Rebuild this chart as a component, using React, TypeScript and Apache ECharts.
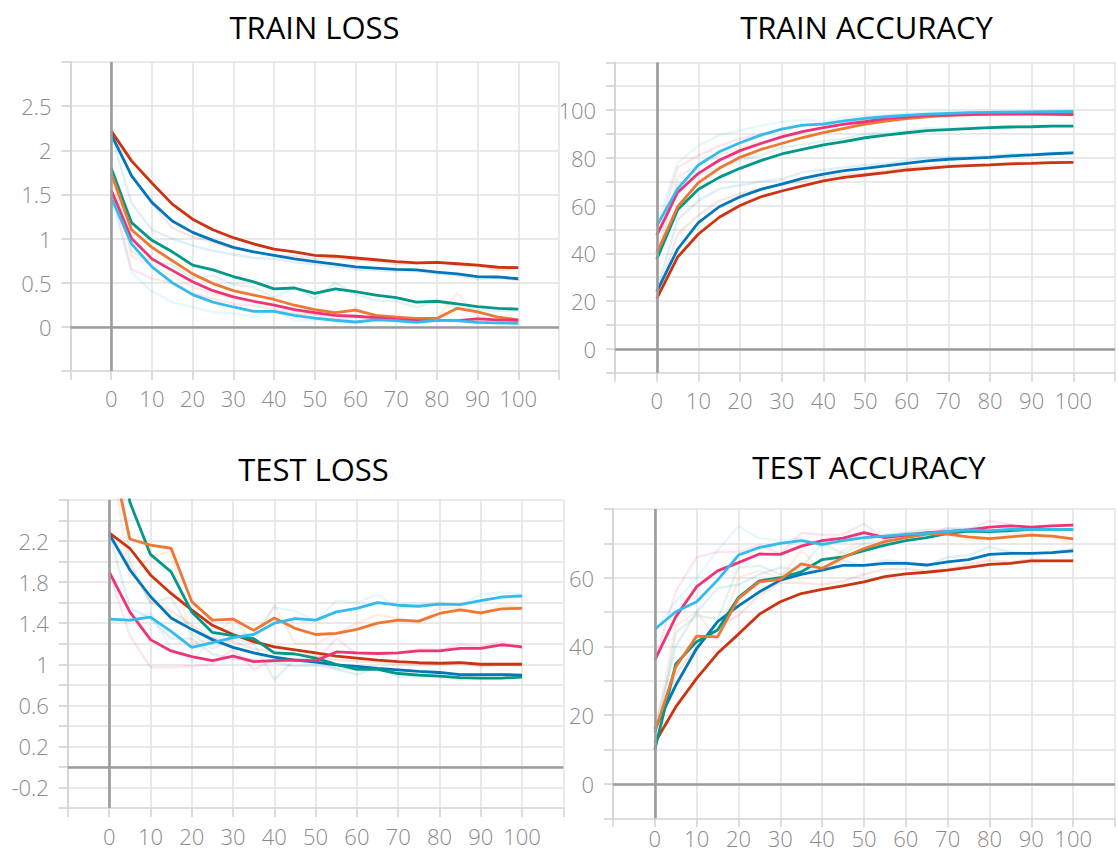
import React, { useEffect, useRef } from "react";
import * as echarts from "echarts";

const EPOCHS = [0, 5, 10, 15, 20, 25, 30, 35, 40, 45, 50, 55, 60, 65, 70, 75, 80, 85, 90, 95, 100];
const RUN_COLORS = ["#cc3311", "#0077bb", "#009988", "#ee7733", "#ee3377", "#33bbee"];

const X_TICK_LABELS = ["0", "10", "20", "30", "40", "50", "60", "70", "80", "90", "100"];

// ---------- TRAIN LOSS ----------
const TRAIN_LOSS_RED = [2.22, 1.88, 1.63, 1.39, 1.22, 1.1, 1.01, 0.94, 0.88, 0.85, 0.81, 0.8, 0.78, 0.76, 0.74, 0.725, 0.73, 0.715, 0.7, 0.675, 0.67];
const TRAIN_LOSS_BLUE = [2.18, 1.71, 1.41, 1.2, 1.07, 0.98, 0.9, 0.85, 0.81, 0.77, 0.74, 0.71, 0.68, 0.665, 0.65, 0.645, 0.62, 0.6, 0.57, 0.565, 0.545];
const TRAIN_LOSS_TEAL = [1.8, 1.18, 0.98, 0.85, 0.7, 0.645, 0.57, 0.51, 0.43, 0.44, 0.38, 0.43, 0.4, 0.36, 0.33, 0.28, 0.29, 0.26, 0.23, 0.21, 0.2];
const TRAIN_LOSS_ORANGE = [1.74, 1.1, 0.9, 0.75, 0.6, 0.49, 0.41, 0.36, 0.31, 0.245, 0.195, 0.16, 0.19, 0.13, 0.11, 0.095, 0.095, 0.21, 0.17, 0.11, 0.08];
const TRAIN_LOSS_PINK = [1.55, 1.0, 0.77, 0.64, 0.51, 0.41, 0.34, 0.29, 0.245, 0.195, 0.16, 0.13, 0.12, 0.105, 0.085, 0.07, 0.07, 0.07, 0.09, 0.08, 0.075];
const TRAIN_LOSS_CYAN = [1.47, 0.94, 0.68, 0.5, 0.365, 0.28, 0.225, 0.175, 0.175, 0.13, 0.1, 0.075, 0.055, 0.08, 0.07, 0.05, 0.075, 0.07, 0.05, 0.045, 0.04];

const TRAIN_LOSS_RED_RAW = [2.22, 1.72, 1.4, 1.12, 1.02, 0.96, 0.89, 0.85, 0.81, 0.8, 0.77, 0.78, 0.75, 0.74, 0.71, 0.71, 0.73, 0.7, 0.69, 0.64, 0.66];
const TRAIN_LOSS_BLUE_RAW = [2.18, 1.4, 1.1, 1.0, 0.92, 0.86, 0.82, 0.78, 0.77, 0.73, 0.71, 0.68, 0.65, 0.64, 0.63, 0.63, 0.6, 0.58, 0.54, 0.56, 0.53];
const TRAIN_LOSS_TEAL_RAW = [1.8, 0.85, 0.75, 0.7, 0.55, 0.58, 0.48, 0.45, 0.33, 0.45, 0.32, 0.5, 0.37, 0.3, 0.29, 0.22, 0.29, 0.22, 0.19, 0.18, 0.19];
const TRAIN_LOSS_ORANGE_RAW = [1.74, 0.8, 0.7, 0.58, 0.45, 0.38, 0.33, 0.28, 0.26, 0.18, 0.15, 0.13, 0.22, 0.09, 0.09, 0.08, 0.1, 0.38, 0.12, 0.07, 0.06];
const TRAIN_LOSS_PINK_RAW = [1.55, 0.65, 0.55, 0.5, 0.38, 0.32, 0.26, 0.24, 0.2, 0.15, 0.14, 0.1, 0.11, 0.09, 0.07, 0.06, 0.07, 0.07, 0.1, 0.07, 0.07];
const TRAIN_LOSS_CYAN_RAW = [1.47, 0.62, 0.4, 0.28, 0.22, 0.17, 0.15, 0.12, 0.18, 0.08, 0.08, 0.06, 0.04, 0.1, 0.06, 0.04, 0.08, 0.06, 0.04, 0.04, 0.03];

// ---------- TRAIN ACCURACY ----------
const TRAIN_ACC_RED = [21, 38.4, 48.1, 55.1, 60, 63.7, 66.1, 68.2, 70.3, 71.8, 72.8, 73.8, 74.9, 75.6, 76.3, 76.7, 77, 77.5, 77.7, 78, 78.1];
const TRAIN_ACC_BLUE = [24, 41.7, 52.9, 59.5, 63.7, 66.8, 69, 71.4, 73.2, 74.6, 75.6, 76.6, 77.7, 78.7, 79.4, 79.8, 80.2, 80.8, 81.2, 81.7, 82.1];
const TRAIN_ACC_TEAL = [37.5, 58.2, 66.8, 71.8, 75.6, 78.8, 81.6, 83.5, 85.4, 86.8, 88.4, 89.5, 90.5, 91.4, 91.8, 92.2, 92.6, 92.9, 93, 93.3, 93.3];
const TRAIN_ACC_ORANGE = [40, 59.5, 69.6, 75.6, 80.2, 83.5, 86, 88.5, 90.5, 92.3, 94.1, 95.4, 96.4, 97.2, 97.8, 98, 98.3, 98.4, 98.5, 98.6, 98.6];
const TRAIN_ACC_PINK = [47.5, 65.5, 73.5, 79, 83, 86, 88.8, 91, 92.6, 94.1, 95.1, 96.4, 97.2, 97.8, 97.9, 98.2, 98.3, 98.3, 98.3, 98.2, 98.1];
const TRAIN_ACC_CYAN = [51.5, 67, 77, 82.5, 86.3, 89.5, 92, 93.7, 94.1, 95.5, 96.5, 97.2, 97.8, 98.3, 98.6, 98.9, 99, 99.1, 99.2, 99.3, 99.4];

const TRAIN_ACC_RED_RAW = [21, 48, 56, 62, 65, 67, 69, 70, 72, 73, 73.5, 74.5, 76, 76.5, 77, 77, 77.2, 78, 77.8, 78.3, 78.3];
const TRAIN_ACC_BLUE_RAW = [24, 54, 62, 67, 68.5, 70, 71, 74, 75, 76, 77, 77.5, 79, 80, 80.3, 80.5, 80.8, 81.5, 81.5, 82, 82.5];
const TRAIN_ACC_TEAL_RAW = [37.5, 69, 73, 76, 79, 81, 84.5, 85.5, 87, 88, 90, 90.5, 91, 92.5, 92, 92.7, 93, 93.2, 93.2, 93.5, 93.4];
const TRAIN_ACC_ORANGE_RAW = [40, 72, 77, 81, 84.5, 86.5, 88.5, 91, 92.5, 94, 95.5, 96.5, 97, 97.7, 98.2, 98.3, 98.5, 98.5, 98.6, 98.6, 98.7];
const TRAIN_ACC_PINK_RAW = [47.5, 76, 81, 85, 88, 90, 92, 93.5, 94.5, 95.5, 96, 97.5, 98, 98.2, 98, 98.3, 98.5, 98.4, 98.5, 98.3, 98];
const TRAIN_ACC_CYAN_RAW = [51.5, 78, 85, 89.5, 91.5, 93.5, 95, 96, 95, 97, 97.5, 98, 98.5, 99, 99, 99.2, 99.3, 99.5, 99.5, 99.6, 99.6];

// ---------- TEST LOSS ----------
const TEST_LOSS_RED = [2.28, 2.13, 1.87, 1.69, 1.53, 1.38, 1.29, 1.22, 1.17, 1.14, 1.11, 1.08, 1.06, 1.04, 1.025, 1.015, 1.01, 1.015, 1.0, 1.0, 1.0];
const TEST_LOSS_BLUE = [2.27, 1.92, 1.66, 1.45, 1.34, 1.24, 1.165, 1.11, 1.07, 1.04, 1.02, 0.995, 0.98, 0.96, 0.945, 0.93, 0.92, 0.9, 0.9, 0.9, 0.895];
const TEST_LOSS_TEAL = [4.0, 2.58, 2.07, 1.9, 1.51, 1.31, 1.28, 1.25, 1.11, 1.1, 1.06, 1.0, 0.95, 0.95, 0.91, 0.895, 0.885, 0.87, 0.865, 0.865, 0.875];
const TEST_LOSS_ORANGE = [3.15, 2.22, 2.16, 2.13, 1.61, 1.43, 1.44, 1.33, 1.45, 1.35, 1.29, 1.3, 1.34, 1.4, 1.43, 1.42, 1.495, 1.53, 1.5, 1.54, 1.545];
const TEST_LOSS_PINK = [1.9, 1.51, 1.24, 1.13, 1.075, 1.035, 1.08, 1.025, 1.035, 1.04, 1.035, 1.12, 1.11, 1.105, 1.11, 1.13, 1.13, 1.155, 1.155, 1.19, 1.17];
const TEST_LOSS_CYAN = [1.44, 1.43, 1.46, 1.32, 1.165, 1.21, 1.26, 1.29, 1.4, 1.445, 1.43, 1.51, 1.545, 1.6, 1.575, 1.565, 1.585, 1.58, 1.62, 1.655, 1.665];

const TEST_LOSS_RED_RAW = [2.28, 1.95, 1.6, 1.52, 1.38, 1.25, 1.22, 1.15, 1.12, 1.1, 1.08, 1.04, 1.03, 1.02, 1.0, 1.0, 1.0, 1.02, 0.98, 1.0, 1.0];
const TEST_LOSS_BLUE_RAW = [2.27, 1.55, 1.45, 1.25, 1.25, 1.1, 1.05, 1.05, 1.02, 0.98, 0.99, 0.96, 0.95, 0.96, 0.92, 0.9, 0.9, 0.86, 0.89, 0.9, 0.88];
const TEST_LOSS_TEAL_RAW = [4.0, 2.0, 1.6, 1.65, 1.3, 1.15, 1.25, 1.2, 0.85, 1.05, 1.05, 0.95, 0.9, 0.97, 0.88, 0.88, 0.87, 0.85, 0.86, 0.86, 0.9];
const TEST_LOSS_ORANGE_RAW = [3.15, 1.85, 2.05, 2.1, 1.2, 1.25, 1.45, 1.2, 1.58, 1.2, 1.2, 1.3, 1.4, 1.48, 1.45, 1.4, 1.55, 1.55, 1.48, 1.58, 1.55];
const TEST_LOSS_PINK_RAW = [1.9, 1.28, 0.97, 0.97, 0.98, 1.0, 1.15, 0.95, 1.05, 1.05, 1.03, 1.25, 1.1, 1.1, 1.11, 1.15, 1.14, 1.19, 1.17, 1.22, 1.15];
const TEST_LOSS_CYAN_RAW = [1.44, 1.42, 1.5, 1.15, 1.03, 1.25, 1.3, 1.3, 1.55, 1.52, 1.42, 1.62, 1.6, 1.68, 1.55, 1.57, 1.6, 1.58, 1.68, 1.7, 1.68];

// ---------- TEST ACCURACY ----------
const TEST_ACC_RED = [12, 22.4, 30.7, 38, 43.6, 49.4, 53, 55.4, 56.6, 57.6, 58.8, 60.3, 61.1, 61.6, 62.2, 63, 63.9, 64.2, 64.9, 64.9, 64.9];
const TEST_ACC_BLUE = [16, 28.7, 39.4, 47.2, 51.8, 55.9, 59.3, 61, 62.2, 63.6, 63.6, 64.2, 64.2, 63.7, 64.6, 65.3, 66.8, 67.1, 67.1, 67.3, 67.8];
const TEST_ACC_TEAL = [10, 34.9, 41.4, 44.8, 54.3, 59.1, 60, 61.7, 65.3, 66.1, 67.9, 69.5, 70.8, 71.7, 72.9, 73.6, 73.4, 73.7, 74.1, 74.1, 74.1];
const TEST_ACC_ORANGE = [15, 34, 43, 42.8, 54, 58.8, 59.5, 64, 62.7, 65.9, 68.5, 70.5, 71.7, 72.7, 72.7, 71.9, 71.4, 71.9, 72.4, 72.1, 71.3];
const TEST_ACC_PINK = [36, 48.6, 57.4, 62, 64.4, 66.9, 66.8, 69.2, 70.8, 71.5, 73.1, 71.7, 72.4, 73.1, 73.4, 73.9, 74.7, 75.1, 74.7, 75.1, 75.3];
const TEST_ACC_CYAN = [45, 50.1, 53, 59.3, 66.6, 68.8, 70, 70.8, 69.7, 70.8, 71.7, 72.1, 72.6, 72.9, 73.4, 73.9, 73.7, 74.1, 74.1, 74.1, 74.1];

const TEST_ACC_RED_RAW = [12, 32, 40, 46, 49, 55, 58.5, 58.5, 58, 59, 61, 62.5, 62.5, 62, 62.5, 64, 65, 64.5, 65.5, 65, 65];
const TEST_ACC_BLUE_RAW = [16, 40, 50, 57, 58, 61, 63, 62, 63, 65, 63.5, 65, 64.5, 63.5, 66, 66.5, 69, 67.5, 67, 67.5, 68.5];
const TEST_ACC_TEAL_RAW = [10, 44, 49, 48, 63, 63.5, 61, 63, 70, 67, 70, 71, 72, 72.5, 74.5, 74, 73, 73.5, 74.5, 74, 74.2];
const TEST_ACC_ORANGE_RAW = [15, 46, 50, 42, 60, 62, 60, 68, 62, 68, 71, 72.5, 73, 73, 73, 71, 71, 72.5, 73, 71.5, 70];
const TEST_ACC_PINK_RAW = [36, 56, 66, 67.5, 67.5, 69.5, 67, 73, 72.5, 72.5, 75.8, 71, 73, 74, 74, 74, 76.5, 75.5, 74.5, 75.5, 75.5];
const TEST_ACC_CYAN_RAW = [45, 53, 60, 68, 75, 71.4, 70.8, 71.5, 69, 71.5, 72.5, 72.5, 73, 73, 74, 74.5, 73.5, 74.5, 74, 74.3, 74];

const FONT = "'Open Sans', 'Noto Sans', sans-serif";

type Panel = {
  title: string;
  titleX: number;
  titleY: number;
  grid: { left: number; top: number; width: number; height: number };
  xLabelMargin: number;
  yMin: number;
  yMax: number;
  yInterval: number;
  yFormatter: (v: number) => string;
  smooth: number[][];
  raw: number[][];
};

const PANELS: Panel[] = [
  {
    title: "TRAIN LOSS",
    titleX: 314.5,
    titleY: 27,
    grid: { left: 70.5, top: 62, width: 488.5, height: 309 },
    xLabelMargin: 18,
    yMin: -0.5,
    yMax: 3,
    yInterval: 0.5,
    yFormatter: (v) => {
      const r = Math.round(v * 10) / 10;
      return r >= 0 && r <= 2.5 ? String(r) : "";
    },
    smooth: [TRAIN_LOSS_RED, TRAIN_LOSS_BLUE, TRAIN_LOSS_TEAL, TRAIN_LOSS_ORANGE, TRAIN_LOSS_PINK, TRAIN_LOSS_CYAN],
    raw: [TRAIN_LOSS_RED_RAW, TRAIN_LOSS_BLUE_RAW, TRAIN_LOSS_TEAL_RAW, TRAIN_LOSS_ORANGE_RAW, TRAIN_LOSS_PINK_RAW, TRAIN_LOSS_CYAN_RAW],
  },
  {
    title: "TRAIN ACCURACY",
    titleX: 866.5,
    titleY: 27,
    grid: { left: 615.1, top: 62.3, width: 506.5, height: 310.4 },
    xLabelMargin: 18,
    yMin: -10,
    yMax: 120,
    yInterval: 10,
    yFormatter: (v) => {
      const r = Math.round(v);
      return r >= 0 && r <= 100 && r % 20 === 0 ? String(r) : "";
    },
    smooth: [TRAIN_ACC_RED, TRAIN_ACC_BLUE, TRAIN_ACC_TEAL, TRAIN_ACC_ORANGE, TRAIN_ACC_PINK, TRAIN_ACC_CYAN],
    raw: [TRAIN_ACC_RED_RAW, TRAIN_ACC_BLUE_RAW, TRAIN_ACC_TEAL_RAW, TRAIN_ACC_ORANGE_RAW, TRAIN_ACC_PINK_RAW, TRAIN_ACC_CYAN_RAW],
  },
  {
    title: "TEST LOSS",
    titleX: 313.5,
    titleY: 469,
    grid: { left: 67.9, top: 500, width: 495.4, height: 308 },
    xLabelMargin: 19,
    yMin: -0.4,
    yMax: 2.6,
    yInterval: 0.2,
    yFormatter: (v) => {
      const r = Math.round(v * 10) / 10;
      const k = Math.round((r + 0.2) * 10);
      return k % 4 === 0 && r >= -0.25 && r <= 2.25 ? String(r) : "";
    },
    smooth: [TEST_LOSS_RED, TEST_LOSS_BLUE, TEST_LOSS_TEAL, TEST_LOSS_ORANGE, TEST_LOSS_PINK, TEST_LOSS_CYAN],
    raw: [TEST_LOSS_RED_RAW, TEST_LOSS_BLUE_RAW, TEST_LOSS_TEAL_RAW, TEST_LOSS_ORANGE_RAW, TEST_LOSS_PINK_RAW, TEST_LOSS_CYAN_RAW],
  },
  {
    title: "TEST ACCURACY",
    titleX: 869,
    titleY: 467,
    grid: { left: 613, top: 509, width: 510.8, height: 309.3 },
    xLabelMargin: 11,
    yMin: -10,
    yMax: 80,
    yInterval: 10,
    yFormatter: (v) => {
      const r = Math.round(v);
      return r >= 0 && r <= 60 && r % 20 === 0 ? String(r) : "";
    },
    smooth: [TEST_ACC_RED, TEST_ACC_BLUE, TEST_ACC_TEAL, TEST_ACC_ORANGE, TEST_ACC_PINK, TEST_ACC_CYAN],
    raw: [TEST_ACC_RED_RAW, TEST_ACC_BLUE_RAW, TEST_ACC_TEAL_RAW, TEST_ACC_ORANGE_RAW, TEST_ACC_PINK_RAW, TEST_ACC_CYAN_RAW],
  },
];

const toPoints = (vals: number[]) => EPOCHS.map((e, i) => [e, vals[i]]);

function buildOption() {
  const grids: any[] = [];
  const xAxes: any[] = [];
  const yAxes: any[] = [];
  const series: any[] = [];
  const graphics: any[] = [];

  PANELS.forEach((p, gi) => {
    grids.push({ ...p.grid, containLabel: false });
    xAxes.push({
      type: "value",
      gridIndex: gi,
      min: -10,
      max: 110,
      interval: 10,
      axisLine: { show: true, onZero: false, lineStyle: { color: "#dadada", width: 1.5 } },
      axisTick: { show: true, length: 9, lineStyle: { color: "#d2d2d2", width: 1.5 } },
      splitLine: { show: true, lineStyle: { color: "#e2e2e2", width: 1.5 } },
      axisLabel: {
        show: true,
        margin: p.xLabelMargin,
        lineHeight: 18,
        color: "#8a8a8a",
        fontSize: 22,
        fontWeight: 300,
        fontFamily: FONT,
        showMinLabel: true,
        showMaxLabel: true,
        formatter: (v: number) => {
          const r = Math.round(v);
          return X_TICK_LABELS.includes(String(r)) ? String(r) : "";
        },
      },
    });
    yAxes.push({
      type: "value",
      gridIndex: gi,
      min: p.yMin,
      max: p.yMax,
      interval: p.yInterval,
      axisLine: { show: true, onZero: false, lineStyle: { color: "#cfcfcf", width: 1.5 } },
      axisTick: { show: true, length: 9, lineStyle: { color: "#cfcfcf", width: 1.5 } },
      splitLine: { show: true, lineStyle: { color: "#e2e2e2", width: 1.5 } },
      axisLabel: {
        show: true,
        margin: 19,
        lineHeight: 18,
        color: "#8a8a8a",
        fontSize: 22,
        fontWeight: 300,
        fontFamily: FONT,
        showMinLabel: true,
        showMaxLabel: true,
        formatter: p.yFormatter,
      },
    });

    // zero axes
    series.push({
      type: "line",
      xAxisIndex: gi,
      yAxisIndex: gi,
      data: [[0, 0]],
      symbol: "none",
      showSymbol: false,
      lineStyle: { opacity: 0 },
      silent: true,
      z: 1,
      markLine: {
        silent: true,
        symbol: ["none", "none"],
        label: { show: false },
        lineStyle: { color: "#9b9b9b", width: 2.6, type: "solid" },
        data: [{ xAxis: 0 }, { yAxis: 0 }],
      },
    });

    p.raw.forEach((vals, ri) => {
      series.push({
        type: "line",
        xAxisIndex: gi,
        yAxisIndex: gi,
        data: toPoints(vals),
        symbol: "none",
        showSymbol: false,
        clip: true,
        silent: true,
        z: 2,
        lineStyle: { color: RUN_COLORS[ri], width: 2.4, opacity: 0.12 },
      });
    });
    p.smooth.forEach((vals, ri) => {
      series.push({
        type: "line",
        xAxisIndex: gi,
        yAxisIndex: gi,
        data: toPoints(vals),
        symbol: "none",
        showSymbol: false,
        clip: true,
        z: 3,
        lineStyle: { color: RUN_COLORS[ri], width: 2.8, opacity: 1 },
      });
    });

    graphics.push({
      type: "text",
      x: p.titleX,
      y: p.titleY,
      style: {
        text: p.title,
        fill: "#000000",
        fontSize: 31,
        fontFamily: FONT,
        fontWeight: 400,
        align: "center",
        verticalAlign: "middle",
      },
    });
  });

  return {
    animation: false,
    backgroundColor: "#ffffff",
    grid: grids,
    xAxis: xAxes,
    yAxis: yAxes,
    series,
    graphic: graphics,
  };
}

export default function App() {
  const ref = useRef<HTMLDivElement>(null);
  useEffect(() => {
    if (!ref.current) return;
    const chart = echarts.init(ref.current, undefined, { renderer: "svg" });
    chart.setOption(buildOption() as any);
    return () => chart.dispose();
  }, []);
  return (
    <div
      ref={ref}
      style={{ position: "absolute", left: 0, top: 0, width: 1118, height: 854, background: "#fff" }}
    />
  );
}
